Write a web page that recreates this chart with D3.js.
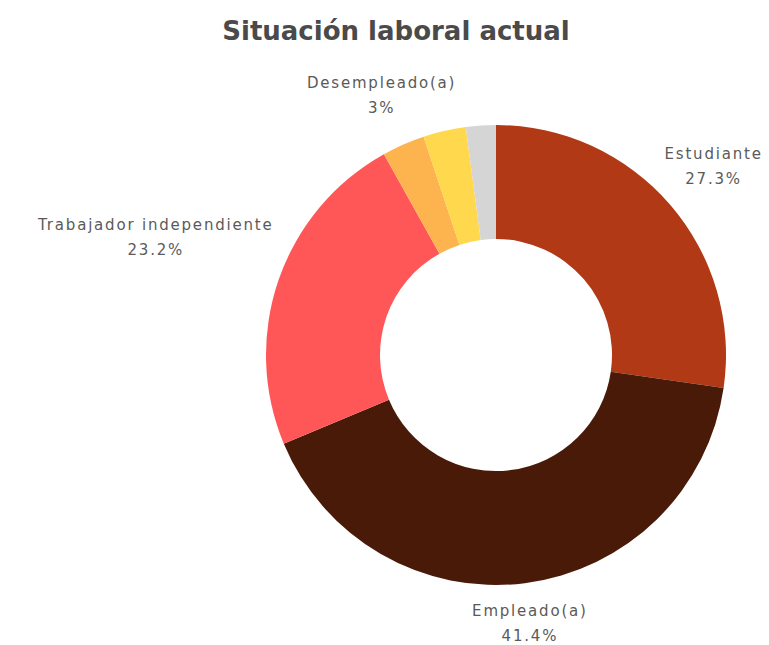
<!DOCTYPE html>
<html>
<head>
<meta charset="utf-8">
<script src="https://cdn.jsdelivr.net/npm/d3@7"></script>
<style>
  body { margin: 0; background: #fff; }
  svg text { font-family: "DejaVu Sans", "Open Sans", sans-serif; }
</style>
</head>
<body>
<div id="chart"></div>
<script>
// data
const categories = ["Estudiante", "Empleado(a)", "Trabajador independiente", "Desempleado(a)", "Otro", "Sin respuesta"];
const values = [27.3, 41.4, 23.2, 3.0, 3.0, 2.1];
const colors = ["#b23916", "#4a1a08", "#ff5757", "#fdb44f", "#ffd84e", "#d5d5d5"];
const showLabel = [true, true, true, true, false, false];

const width = 769, height = 645;
const cx = 496, cy = 355;
const outerR = 230, innerR = 116;

const svg = d3.select("#chart").append("svg")
  .attr("width", width)
  .attr("height", height);

svg.append("text")
  .attr("x", 396)
  .attr("y", 40)
  .attr("text-anchor", "middle")
  .style("font-size", "26px")
  .style("font-weight", "bold")
  .style("fill", "#4a4a4a")
  .text("Situación laboral actual");

const data = categories.map((name, i) => ({ name, value: values[i], color: colors[i], label: showLabel[i] }));

const pie = d3.pie().sort(null).value((d) => d.value);
const arc = d3.arc().innerRadius(innerR).outerRadius(outerR);

const g = svg.append("g").attr("transform", `translate(${cx}, ${cy})`);

const arcs = pie(data);

g.selectAll("path")
  .data(arcs)
  .enter()
  .append("path")
  .attr("d", arc)
  .attr("fill", (d) => d.data.color);

// labels placed radially outside the ring
const labelGap = 248;
arcs.filter((d) => d.data.label).forEach((d) => {
  const mid = (d.startAngle + d.endAngle) / 2;
  const vx = Math.sin(mid), vy = -Math.cos(mid);
  const lg = g.append("g");
  const t = lg.append("text")
    .attr("text-anchor", "middle")
    .style("font-size", "15px")
    .style("letter-spacing", "1.8px")
    .style("fill", "#5a5a5a");
  t.append("tspan").attr("x", 0).attr("y", -6).text(d.data.name);
  t.append("tspan").attr("x", 0).attr("y", 19).text(d3.format(".3~r")(d.data.value) + "%");
  const bb = t.node().getBBox();
  const hw = bb.width / 2, hh = bb.height / 2;
  const oy = bb.y + hh;
  const dist = labelGap + Math.sqrt((hw * vx) ** 2 + (hh * vy) ** 2);
  lg.attr("transform", `translate(${vx * dist}, ${vy * dist - oy})`);
});
</script>
</body>
</html>
